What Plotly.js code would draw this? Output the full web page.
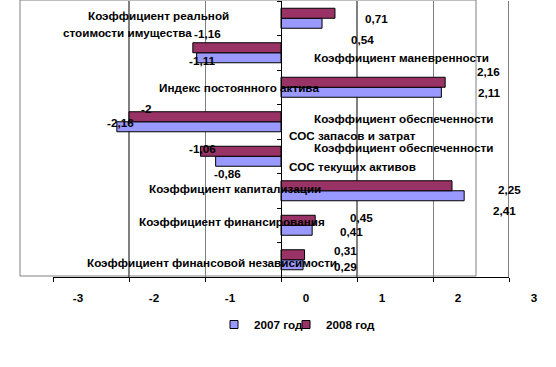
<!DOCTYPE html>
<html>
<head>
<meta charset="utf-8">
<script src="https://cdn.plot.ly/plotly-3.0.1.min.js"></script>
<style>html,body{margin:0;padding:0;background:#fff;}#chart{width:556px;height:367px;}</style>
</head>
<body>
<div id="chart"></div>
<script>
// Categories listed bottom -> top as drawn on the chart
var categories = [
  "Коэффициент финансовой независимости",
  "Коэффициент финансирования",
  "Коэффициент капитализации",
  "Коэффициент обеспеченности<br>СОС текущих активов",
  "Коэффициент обеспеченности<br>СОС запасов и затрат",
  "Индекс постоянного актива",
  "Коэффициент маневренности",
  "Коэффициент реальной<br>стоимости имущества"
];
var values2007 = [0.29, 0.41, 2.41, -0.86, -2.16, 2.11, -1.11, 0.54];
var values2008 = [0.31, 0.45, 2.25, -1.06, -2, 2.16, -1.16, 0.71];
var seriesNames = ["2007 год", "2008 год"];
var xTickVals = [-3, -2, -1, 0, 1, 2, 3];

// ---- layout / styling (positions in pixels of the 556x367 picture) ----
var M = {l: 53, r: 47, t: 1, b: 90};
var W = 556, H = 367;
var PW = W - M.l - M.r, PH = H - M.t - M.b;
function px(x) { return (x - M.l) / PW; }
function py(y) { return (H - M.b - y) / PH; }

var valueLabelPos2007 = [[333,266],[339,232],[492,210],[213,173],[106,123],[477,92],[188,61],[350,40]];
var valueLabelPos2008 = [[333,250],[349,218],[497,190],[188,149],[140,109],[476,71],[193,34],[364,18]];
var catLabelPos = [
  [[86,262]], [[138,221]], [[148,188]], [[313,148],[288,166]],
  [[313,118],[288,135]], [[158,88]], [[313,57]], [[87,15],[62,33]]
];

var FONT = {family: "Liberation Sans, Arial, sans-serif", size: 11.7, color: "#000", weight: 700};
var C2007 = "#9999FF", C2008 = "#993366";

function fmt(v) { return String(v).replace(".", ","); }

var annotations = [];
categories.forEach(function (c, i) {
  var lines = c.split("<br>");
  lines.forEach(function (t, k) {
    var p = catLabelPos[i][k];
    annotations.push({xref: "paper", yref: "paper", x: px(p[0]), y: py(p[1]),
      xanchor: "left", yanchor: "middle", text: t, showarrow: false, font: FONT, borderpad: 0});
  });
  [[values2007, valueLabelPos2007], [values2008, valueLabelPos2008]].forEach(function (s) {
    var p = s[1][i];
    annotations.push({xref: "paper", yref: "paper", x: px(p[0]), y: py(p[1]),
      xanchor: "left", yanchor: "middle", text: fmt(s[0][i]), showarrow: false, font: FONT, borderpad: 0});
  });
});

var traces = [
  {type: "bar", orientation: "h", name: seriesNames[0], y: categories, x: values2007,
   marker: {color: C2007, line: {color: "#000", width: 1}}, showlegend: false, hoverinfo: "x"},
  {type: "bar", orientation: "h", name: seriesNames[1], y: categories, x: values2008,
   marker: {color: C2008, line: {color: "#000", width: 1}}, showlegend: false, hoverinfo: "x"},
  {type: "scatter", mode: "markers", name: seriesNames[0], x: [null], y: [null], legend: "legend",
   marker: {symbol: "square", size: 8, color: C2007, line: {color: "#000", width: 1}}},
  {type: "scatter", mode: "markers", name: seriesNames[1], x: [null], y: [null], legend: "legend2",
   marker: {symbol: "square", size: 8, color: C2008, line: {color: "#000", width: 1}}}
];

var shapes = [
  {type: "rect", xref: "paper", yref: "paper", x0: px(20), x1: px(476), y0: py(276), y1: py(0),
   line: {color: "#808080", width: 1}, layer: "below"}
];
[-2, 1, 3].forEach(function (v) {
  shapes.push({type: "line", xref: "x", yref: "paper", x0: v, x1: v, y0: 0, y1: 1,
    line: {color: "#000", width: 1}, layer: "below"});
});

function legendAt(x, y) {
  return {orientation: "h", x: px(x), y: py(y), xanchor: "left", yanchor: "top",
    font: FONT, bgcolor: "rgba(0,0,0,0)", itemclick: false, itemdoubleclick: false};
}

var layout = {
  width: W, height: H,
  margin: M,
  paper_bgcolor: "#fff", plot_bgcolor: "rgba(0,0,0,0)",
  barmode: "group", bargap: 0.42, bargroupgap: 0,
  font: FONT,
  xaxis: {range: [-3, 3], tickvals: xTickVals, ticktext: xTickVals.map(String),
    showgrid: true, gridcolor: "#808080", gridwidth: 1, zeroline: false,
    showline: true, linecolor: "#000", linewidth: 1, ticks: "outside", ticklen: 4,
    tickcolor: "#000", ticklabelshift: 25, ticklabelstandoff: 6, tickfont: FONT, fixedrange: true},
  yaxis: {type: "category", categoryorder: "array", categoryarray: categories,
    range: [-0.5, 7.5], anchor: "free", position: 0.5, showline: true, linecolor: "#000",
    linewidth: 1, ticks: "outside", tickson: "boundaries", ticklen: 4, tickcolor: "#000",
    showticklabels: false, showgrid: false, zeroline: false, fixedrange: true},
  showlegend: true,
  legend: legendAt(214, 310),
  legend2: legendAt(286, 310),
  annotations: annotations,
  shapes: shapes
};

Plotly.newPlot("chart", traces, layout, {displayModeBar: false, staticPlot: true});
</script>
</body>
</html>
